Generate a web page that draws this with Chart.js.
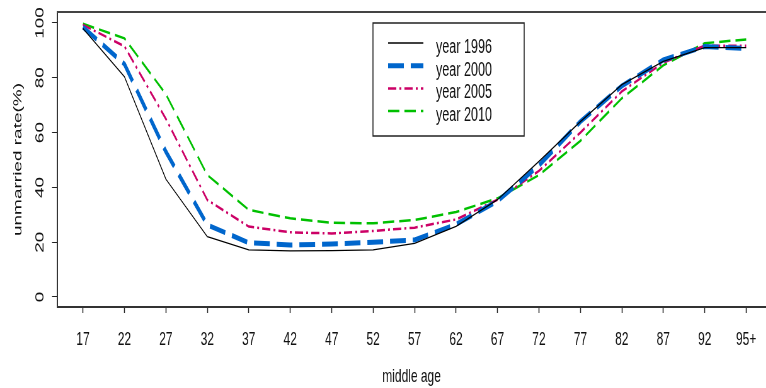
<!DOCTYPE html>
<html>
<head>
  <meta charset="UTF-8">
  <title>Unmarried rate by middle age</title>
  <script src="https://cdn.jsdelivr.net/npm/chart.js"></script>
  <style>
    html, body { margin: 0; padding: 0; background: #fff; overflow: hidden; }
    /* drawn wide, then squeezed horizontally like the original figure */
    #chart { display: block; transform: scaleX(0.63); transform-origin: 0 0; }
  </style>
</head>
<body>
  <canvas id="chart" width="1216" height="388"></canvas>
  <script>
    const ages = ["17", "22", "27", "32", "37", "42", "47", "52", "57", "62", "67", "72", "77", "82", "87", "92", "95+"];
    const years = ["year 1996", "year 2000", "year 2005", "year 2010"];
    const rate1996 = [98, 80.4, 43, 22, 17.2, 16.8, 16.9, 17.2, 19.6, 25.8, 35.5, 49.5, 64, 77.5, 86, 91, 91];
    const rate2000 = [98.5, 85, 53, 26.3, 19.8, 19, 19.3, 20, 20.8, 26.5, 35, 48, 64, 77, 86.5, 91.4, 90.7];
    const rate2005 = [99.3, 91.5, 65, 35.4, 25.7, 23.6, 23.2, 24.1, 25.3, 28.3, 35.5, 46, 60, 75, 85.5, 91.7, 91.7];
    const rate2010 = [99.7, 94.4, 74, 44.5, 31.8, 28.7, 27.1, 26.9, 28.1, 31, 36, 44.5, 57, 72.5, 84.5, 92.6, 94];
    const yTicks = [0, 20, 40, 60, 80, 100];

    const FONT = "'Liberation Sans', Arial, Helvetica, sans-serif";

    function points(values) {
      return values.map((v, i) => ({ x: i, y: v }));
    }

    // top edge of the plot box + the legend in the upper middle
    const frame = {
      id: "frame",
      afterDatasetsDraw(chart) {
        const { ctx, chartArea } = chart;
        ctx.save();
        ctx.strokeStyle = "#444";
        ctx.lineWidth = 2;
        ctx.beginPath();
        ctx.moveTo(chartArea.left, chartArea.top);
        ctx.lineTo(chartArea.right, chartArea.top);
        ctx.stroke();

        const bx = 592, by = 23, bw = 240, bh = 113;
        ctx.fillStyle = "#fff";
        ctx.fillRect(bx, by, bw, bh);
        ctx.strokeStyle = "#222";
        ctx.lineWidth = 1.5;
        ctx.strokeRect(bx, by, bw, bh);

        chart.data.datasets.forEach((ds, i) => {
          const y = 43 + i * 22.7;
          ctx.beginPath();
          ctx.setLineDash(ds.borderDash || []);
          ctx.lineWidth = ds.borderWidth;
          ctx.strokeStyle = ds.borderColor;
          ctx.moveTo(616, y);
          ctx.lineTo(672, y);
          ctx.stroke();
          ctx.setLineDash([]);
          ctx.fillStyle = "#111";
          ctx.font = "20px " + FONT;
          ctx.textBaseline = "middle";
          ctx.textAlign = "left";
          ctx.fillText(ds.label, 692, y + 4.5);
        });
        ctx.restore();
      }
    };

    new Chart(document.getElementById("chart").getContext("2d"), {
      type: "line",
      data: {
        datasets: [
          { label: years[0], data: points(rate1996), borderColor: "#000", borderWidth: 1.3 },
          { label: years[1], data: points(rate2000), borderColor: "#0066cc", borderWidth: 5, borderDash: [25, 11] },
          { label: years[2], data: points(rate2005), borderColor: "#cc0066", borderWidth: 2.5, borderDash: [13, 5, 3, 5] },
          { label: years[3], data: points(rate2010), borderColor: "#00c000", borderWidth: 2.5, borderDash: [18, 8] }
        ]
      },
      options: {
        responsive: false,
        animation: false,
        layout: { padding: { top: 12, right: 0, bottom: 0, left: 0 } },
        elements: { point: { radius: 0 }, line: { tension: 0, fill: false } },
        plugins: { legend: { display: false }, tooltip: { enabled: false } },
        scales: {
          x: {
            type: "linear",
            min: -0.626,
            max: 16.48,
            afterBuildTicks: s => { s.ticks = ages.map((a, i) => ({ value: i })); },
            afterFit: s => { s.height = 81; s.paddingLeft = 0; s.paddingRight = 0; },
            ticks: {
              autoSkip: false, maxRotation: 0, padding: 15,
              color: "#111", font: { family: FONT, size: 19 },
              callback: v => ages[v]
            },
            grid: { drawOnChartArea: false, tickLength: 6, tickWidth: 1.5, tickColor: "#222" },
            border: { color: "#333", width: 2 },
            title: {
              display: true, text: "middle age", color: "#111",
              font: { family: FONT, size: 19 }, padding: { top: 0, bottom: 0 }
            }
          },
          y: {
            min: -3.65,
            max: 104,
            afterBuildTicks: s => { s.ticks = yTicks.map(v => ({ value: v })); },
            afterFit: s => { s.width = 90.5; s.paddingTop = 0; s.paddingBottom = 0; },
            ticks: {
              minRotation: 90, maxRotation: 90, crossAlign: "center", padding: 3,
              color: "#111", font: { family: FONT, size: 19 }
            },
            grid: { drawOnChartArea: false, tickLength: 8, tickWidth: 1, tickColor: "#222" },
            border: { color: "#333", width: 2 },
            title: {
              display: true, text: "unmarried rate(%)", color: "#111",
              font: { family: FONT, size: 19 }, padding: { top: 17, bottom: 0 }
            }
          }
        }
      },
      plugins: [frame]
    });
  </script>
</body>
</html>
